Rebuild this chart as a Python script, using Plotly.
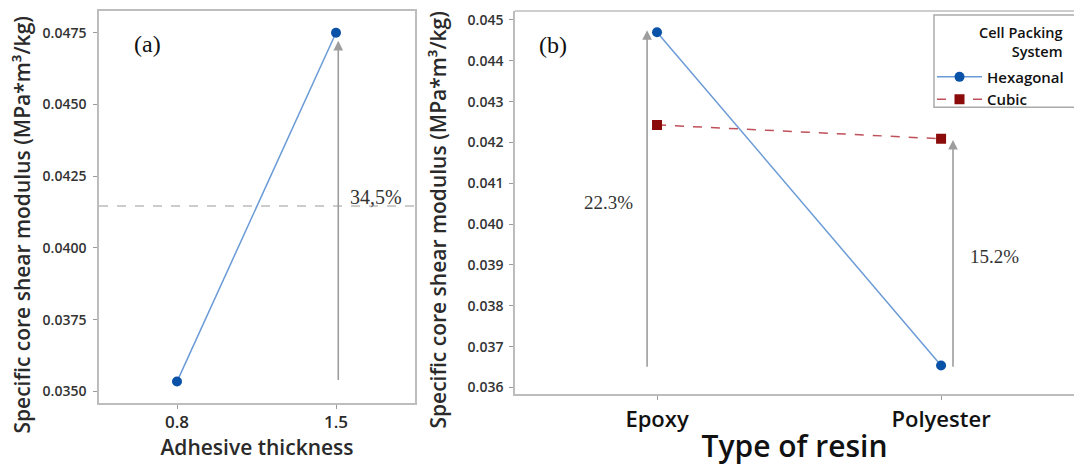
import plotly.graph_objects as go

# ---- data ----
thickness = [0.8, 1.5]
modulus_a = [0.03534, 0.04750]
mean_line_a = 0.04146

resins = ["Epoxy", "Polyester"]
hexagonal = [0.04470, 0.03654]
cubic = [0.04243, 0.04209]

tick_a = [0.0350, 0.0375, 0.0400, 0.0425, 0.0450, 0.0475]
tick_a_text = ["0.0350", "0.0375", "0.0400", "0.0425", "0.0450", "0.0475"]
tick_b = [0.036, 0.037, 0.038, 0.039, 0.040, 0.041, 0.042, 0.043, 0.044, 0.045]
tick_b_text = ["%.3f" % v for v in tick_b]

W, H = 1074, 466
SANS = "Open Sans, Noto Sans, sans-serif"
SERIF = "Liberation Serif, Times New Roman, serif"
TXT = "#2a2a2a"
AX = "#bdbdbd"
LINE_BLUE = "#6b9bd6"
MARK_BLUE = "#0a52a8"
LINE_RED = "#c0505a"
MARK_RED = "#8b0b0b"
YTITLE = "Specific core shear modulus (MPa*m³/kg)"

fig = go.Figure()

# panel (a)
fig.add_trace(go.Scatter(
    x=thickness, y=modulus_a, mode="lines+markers", xaxis="x", yaxis="y",
    line=dict(color=LINE_BLUE, width=1.5),
    marker=dict(color=MARK_BLUE, size=10, symbol="circle"),
    showlegend=False))
fig.add_trace(go.Scatter(
    x=[0.4566, 1.8478], y=[mean_line_a, mean_line_a], mode="lines",
    xaxis="x", yaxis="y", line=dict(color="#9a9a9a", width=1.2, dash="dash"),
    showlegend=False, hoverinfo="skip"))

# panel (b)
fig.add_trace(go.Scatter(
    x=resins, y=hexagonal, mode="lines+markers", xaxis="x2", yaxis="y2",
    name="Hexagonal", line=dict(color=LINE_BLUE, width=1.5),
    marker=dict(color=MARK_BLUE, size=10, symbol="circle")))
fig.add_trace(go.Scatter(
    x=resins, y=cubic, mode="lines+markers", xaxis="x2", yaxis="y2",
    name="Cubic", line=dict(color=LINE_RED, width=1.5, dash="dash"),
    marker=dict(color=MARK_RED, size=10, symbol="square")))

ann = []
arrow_style = dict(showarrow=True, arrowhead=2, arrowsize=1.2, arrowwidth=1.6,
                   arrowcolor="#9d9d9d", text="")
ann.append(dict(x=1.51, y=0.04722, ax=1.51, ay=modulus_a[0], xref="x", yref="y",
                axref="x", ayref="y", **arrow_style))
ann.append(dict(x=-0.035, y=0.04475, ax=-0.035, ay=0.03647, xref="x2", yref="y2",
                axref="x2", ayref="y2", **arrow_style))
ann.append(dict(x=1.042, y=0.04206, ax=1.042, ay=0.03647, xref="x2", yref="y2",
                axref="x2", ayref="y2", **arrow_style))
ann.append(dict(x=0.672, y=0.04712, xref="x", yref="y", text="(a)", showarrow=False,
                font=dict(family=SERIF, size=24, color="#111")))
ann.append(dict(x=1.676, y=0.04179, xref="x", yref="y", text="34,5%", showarrow=False,
                font=dict(family=SERIF, size=20, color="#333")))
ann.append(dict(x=-0.365, y=0.04439, xref="x2", yref="y2", text="(b)", showarrow=False,
                font=dict(family=SERIF, size=24, color="#111")))
ann.append(dict(x=-0.17, y=0.04054, xref="x2", yref="y2", text="22.3%", showarrow=False,
                font=dict(family=SERIF, size=19, color="#333")))
ann.append(dict(x=1.187, y=0.03921, xref="x2", yref="y2", text="15.2%", showarrow=False,
                font=dict(family=SERIF, size=19, color="#333")))
# y-axis titles
ann.append(dict(x=22 / W, y=1 - 225 / H, xref="paper", yref="paper", text=YTITLE,
                textangle=-90, showarrow=False, xanchor="center", yanchor="middle",
                font=dict(family=SANS, size=21, color=TXT, weight=600)))
ann.append(dict(x=438 / W, y=1 - 220 / H, xref="paper", yref="paper", text=YTITLE,
                textangle=-90, showarrow=False, xanchor="center", yanchor="middle",
                font=dict(family=SANS, size=21, color=TXT, weight=600)))
# legend title
ann.append(dict(x=1064 / W, y=1 - 21 / H, xref="paper", yref="paper",
                text="Cell Packing<br>System", align="right", showarrow=False,
                xanchor="right", yanchor="top", borderpad=0,
                font=dict(family=SANS, size=14.5, color="#111", weight=600)))


def dom_x(a, b):
    return [a / W, b / W]


def dom_y(top, bottom):
    return [1 - bottom / H, 1 - top / H]


common_axis = dict(showgrid=False, zeroline=False, showline=True, linecolor=AX,
                   linewidth=1.5, ticks="outside", ticklen=4, tickcolor="#9a9a9a")

fig.update_layout(
    width=W, height=H, margin=dict(l=0, r=0, t=0, b=0),
    paper_bgcolor="white", plot_bgcolor="white",
    xaxis=dict(domain=dom_x(99, 415), range=[0.4566, 1.8478], tickvals=thickness,
               ticktext=["0.8", "1.5"], mirror=True, anchor="y",
               ticklabelstandoff=-2,
               tickfont=dict(family=SANS, size=17, color=TXT, weight=600),
               title=dict(text="Adhesive thickness", standoff=2,
                          font=dict(family=SANS, size=21, color=TXT, weight=600)),
               **common_axis),
    yaxis=dict(domain=dom_y(10, 405), range=[0.03458, 0.04826], tickvals=tick_a,
               ticktext=tick_a_text, mirror=True, anchor="x", ticklabelstandoff=4,
               tickfont=dict(family=SANS, size=14, color="#333", weight=600),
               **common_axis),
    xaxis2=dict(domain=dom_x(515, 1074), range=[-0.5, 1.468], type="category",
                anchor="y2", mirror=False, ticklabelstandoff=0,
                tickfont=dict(family=SANS, size=22, color="#111", weight=600),
                title=dict(text="Type of resin", standoff=4,
                           font=dict(family=SANS, size=30, color="#111", weight=600)),
                **common_axis),
    yaxis2=dict(domain=dom_y(10, 396), range=[0.03583, 0.04522], tickvals=tick_b,
                ticktext=tick_b_text, anchor="x2", ticklabelstandoff=3,
                tickfont=dict(family=SANS, size=14, color="#333", weight=600),
                **common_axis),
    legend=dict(x=932 / W, y=1 - 60 / H, xanchor="left", yanchor="top",
                borderwidth=0, bgcolor="rgba(0,0,0,0)",
                font=dict(family=SANS, size=15, color="#111", weight=600),
                tracegroupgap=0, itemwidth=45),
    annotations=ann,
)
# legend frame
fig.add_shape(type="rect", xref="paper", yref="paper", x0=934 / W, x1=1.02,
              y0=1 - 107 / H, y1=1 - 14 / H, line=dict(color="#aaaaaa", width=1.5),
              layer="below")
# top border line for panel (b)
fig.add_shape(type="line", xref="x2 domain", yref="y2 domain", x0=0, x1=1, y0=1, y1=1,
              line=dict(color=AX, width=1.5))

fig.write_html("out.html", config={"displayModeBar": False},
               post_script="document.body.style.margin='0px';"
                           "document.body.style.overflow='hidden';")
